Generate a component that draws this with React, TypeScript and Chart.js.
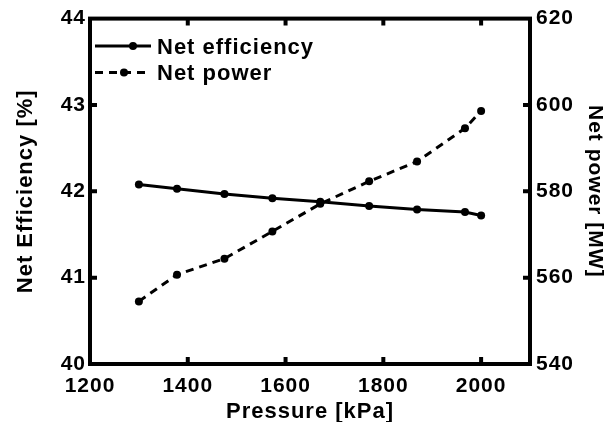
import { useEffect, useRef } from 'react';
import { Chart, registerables } from 'chart.js';

Chart.register(...registerables);

// Operating points along the pressure sweep
const pressure = [1300, 1378, 1475, 1573, 1671, 1771, 1869, 1967, 2000];
const netEfficiency = [42.08, 42.03, 41.97, 41.92, 41.88, 41.83, 41.79, 41.76, 41.72];
const netPower = [554.5, 560.7, 564.4, 570.7, 577.1, 582.3, 586.9, 594.6, 598.6];

const pressureTicks = [1200, 1400, 1600, 1800, 2000];
const seriesLabels = ['Net efficiency', 'Net power'];
const xTitle = 'Pressure [kPa]';
const yTitle = 'Net Efficiency [%]';
const y1Title = 'Net power [MW]';

const FONT = 'Arial, "Liberation Sans", sans-serif';

// Letter spacing for all canvas text
const spacingPlugin = {
  id: 'spacing',
  beforeUpdate(chart: any) {
    chart.ctx.letterSpacing = '1px';
  },
  beforeDraw(chart: any) {
    chart.ctx.letterSpacing = '1px';
  },
};

// Heavy frame with inward-pointing tick marks on all four sides
const framePlugin = {
  id: 'frame',
  afterDraw(chart: any) {
    const { ctx, chartArea: a, scales } = chart;
    const len = 7;
    ctx.save();
    ctx.strokeStyle = '#000';
    ctx.lineWidth = 4;
    ctx.lineCap = 'butt';
    ctx.beginPath();
    const xs = scales.x;
    xs.ticks.forEach((t: any) => {
      if (t.value <= xs.min || t.value >= xs.max) return;
      const px = xs.getPixelForValue(t.value);
      ctx.moveTo(px, a.bottom);
      ctx.lineTo(px, a.bottom - len);
      ctx.moveTo(px, a.top);
      ctx.lineTo(px, a.top + len);
    });
    const ys = scales.y;
    ys.ticks.forEach((t: any) => {
      if (t.value <= ys.min || t.value >= ys.max) return;
      const py = ys.getPixelForValue(t.value);
      ctx.moveTo(a.left, py);
      ctx.lineTo(a.left + len, py);
    });
    const y1 = scales.y1;
    y1.ticks.forEach((t: any) => {
      if (t.value <= y1.min || t.value >= y1.max) return;
      const py = y1.getPixelForValue(t.value);
      ctx.moveTo(a.right, py);
      ctx.lineTo(a.right - len, py);
    });
    ctx.stroke();
    ctx.strokeRect(a.left, a.top, a.right - a.left, a.bottom - a.top);
    ctx.restore();
  },
};

// Legend: line sample with marker, then the series name
const legendPlugin = {
  id: 'lineLegend',
  afterDatasetsDraw(chart: any) {
    const { ctx, chartArea: a } = chart;
    ctx.save();
    ctx.letterSpacing = '1px';
    chart.data.datasets.forEach((ds: any, i: number) => {
      const y = a.top + 27.5 + i * 26.5;
      const x0 = a.left + 5;
      const x1 = a.left + 61;
      ctx.strokeStyle = '#000';
      ctx.lineWidth = ds.borderWidth;
      ctx.setLineDash(ds.borderDash || []);
      ctx.beginPath();
      ctx.moveTo(x0, y);
      ctx.lineTo(x1, y);
      ctx.stroke();
      ctx.setLineDash([]);
      ctx.fillStyle = '#000';
      ctx.beginPath();
      ctx.arc(i === 0 ? x0 + 38 : x0 + 29, y, ds.pointRadius, 0, Math.PI * 2);
      ctx.fill();
      ctx.font = `bold 22px ${FONT}`;
      ctx.textBaseline = 'middle';
      ctx.textAlign = 'left';
      ctx.fillText(ds.label, a.left + 67, y + 1.5);
    });
    ctx.restore();
  },
};

export default function App() {
  const ref = useRef<HTMLCanvasElement>(null);

  useEffect(() => {
    const canvas = ref.current;
    if (!canvas) return;
    const chart = new Chart(canvas, {
      type: 'line',
      data: {
        datasets: [
          {
            label: seriesLabels[0],
            data: pressure.map((p, i) => ({ x: p, y: netEfficiency[i] })),
            yAxisID: 'y',
            borderColor: '#000',
            backgroundColor: '#000',
            borderWidth: 3,
            pointRadius: 4,
            pointBackgroundColor: '#000',
            pointBorderWidth: 0,
            tension: 0,
          },
          {
            label: seriesLabels[1],
            data: pressure.map((p, i) => ({ x: p, y: netPower[i] })),
            yAxisID: 'y1',
            borderColor: '#000',
            backgroundColor: '#000',
            borderWidth: 3,
            borderDash: [8, 6],
            pointRadius: 4,
            pointBackgroundColor: '#000',
            pointBorderWidth: 0,
            tension: 0,
          },
        ],
      },
      options: {
        animation: false,
        responsive: false,
        devicePixelRatio: 1,
        layout: { padding: { top: 17, left: 0, right: 0, bottom: 0 } },
        plugins: {
          legend: { display: false },
          tooltip: { enabled: false },
        },
        scales: {
          x: {
            type: 'linear',
            min: 1200,
            max: 2100,
            ticks: {
              padding: 10,
              color: '#000',
              font: { family: FONT, size: 21, weight: 'bold' },
              callback: (v: any) => String(v),
            },
            afterBuildTicks(scale: any) {
              scale.ticks = pressureTicks.map((v) => ({ value: v }));
            },
            afterFit(scale: any) {
              scale.height = 58;
            },
            grid: { display: false, drawTicks: false },
            border: { display: false },
            title: {
              display: true,
              text: xTitle,
              color: '#000',
              font: { family: FONT, size: 22, weight: 'bold' },
              padding: { top: 0, bottom: -3 },
            },
          },
          y: {
            type: 'linear',
            position: 'left',
            min: 40,
            max: 44,
            ticks: {
              stepSize: 1,
              padding: 4,
              color: '#000',
              font: { family: FONT, size: 21, weight: 'bold' },
            },
            afterFit(scale: any) {
              scale.width = 90;
            },
            grid: { display: false, drawTicks: false },
            border: { display: false },
            title: {
              display: true,
              text: yTitle,
              color: '#000',
              font: { family: FONT, size: 22, weight: 'bold' },
              padding: { top: 13, bottom: 0 },
            },
          },
          y1: {
            type: 'linear',
            position: 'right',
            min: 540,
            max: 620,
            ticks: {
              stepSize: 20,
              padding: 6,
              color: '#000',
              font: { family: FONT, size: 21, weight: 'bold' },
            },
            afterFit(scale: any) {
              scale.width = 80;
            },
            grid: { display: false, drawTicks: false },
            border: { display: false },
            title: {
              display: true,
              text: y1Title,
              color: '#000',
              font: { family: FONT, size: 21, weight: 'bold' },
              padding: { top: 3, bottom: 0 },
            },
          },
        },
      },
      plugins: [spacingPlugin, framePlugin, legendPlugin],
    });
    return () => chart.destroy();
  }, []);

  return (
    <div style={{ position: 'absolute', left: 0, top: 0, width: 610, height: 422, background: '#fff' }}>
      <canvas ref={ref} width={610} height={422} style={{ display: 'block' }} />
    </div>
  );
}
